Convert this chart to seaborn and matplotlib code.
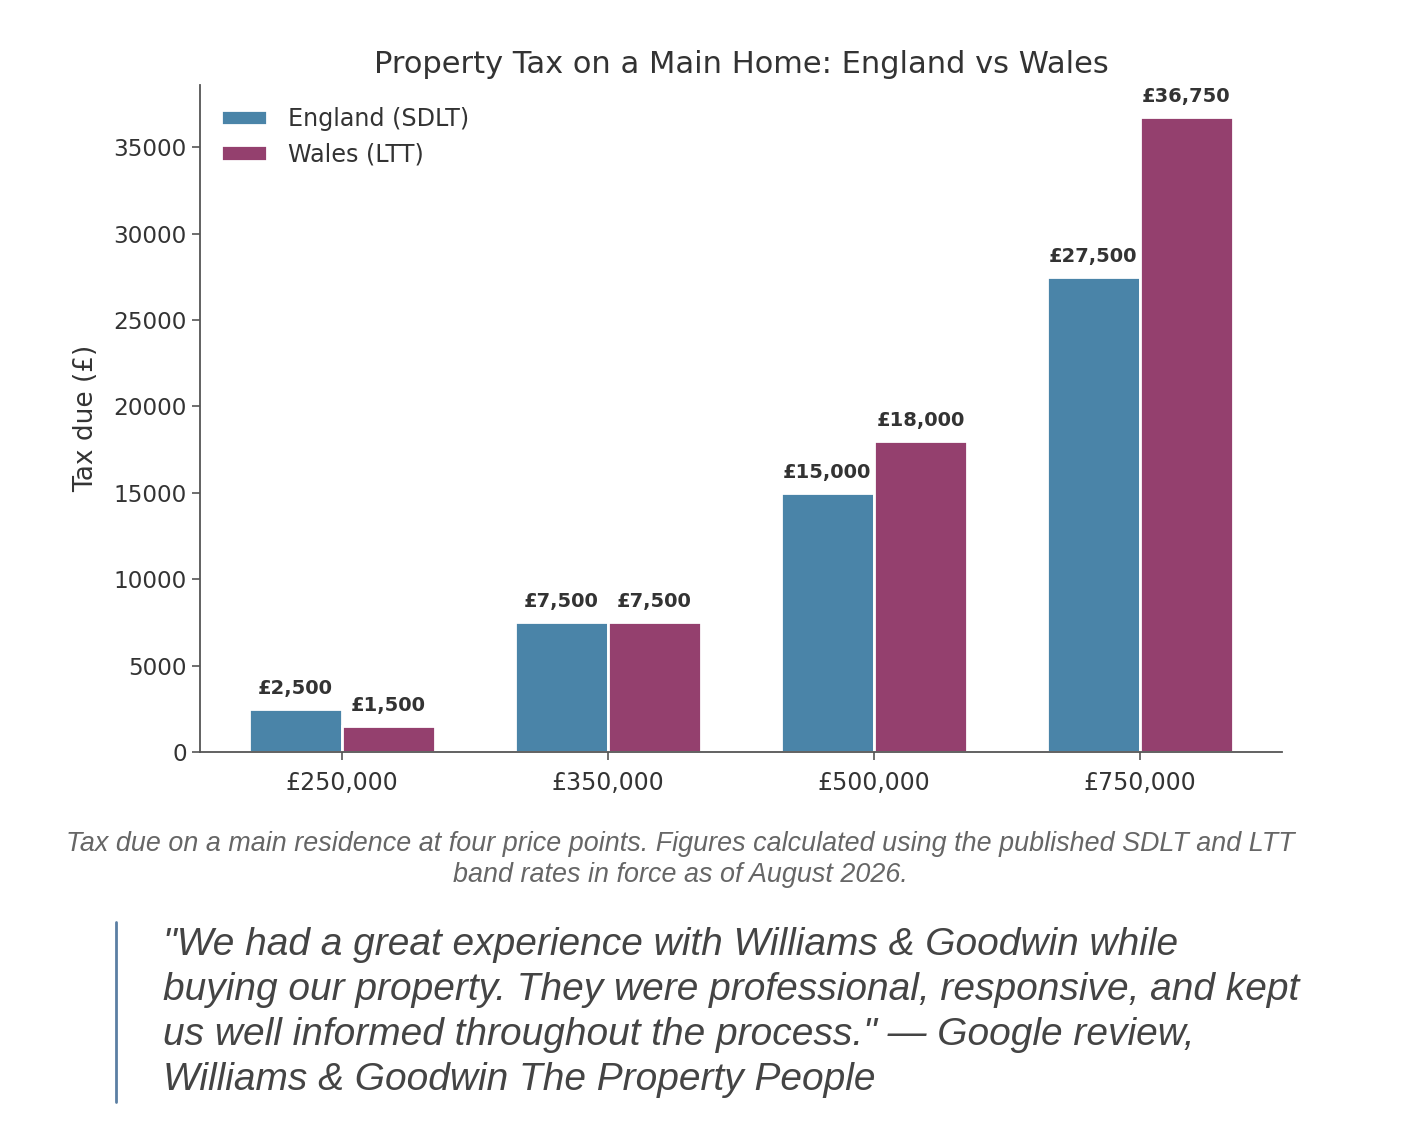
import matplotlib
matplotlib.use("Agg")
import matplotlib.pyplot as plt
import pandas as pd
import seaborn as sns
from matplotlib.lines import Line2D

price_points = ["£250,000", "£350,000", "£500,000", "£750,000"]
england_tax = [2500, 7500, 15000, 27500]
wales_tax = [1500, 7500, 18000, 36750]
series_names = ["England (SDLT)", "Wales (LTT)"]
series_colors = ["#4a84a8", "#94406e"]

caption = ("Tax due on a main residence at four price points. Figures calculated using the published SDLT and LTT\n"
           "band rates in force as of August 2026.")
quote = ("\"We had a great experience with Williams & Goodwin while\n"
         "buying our property. They were professional, responsive, and kept\n"
         "us well informed throughout the process.\" \u2014 Google review,\n"
         "Williams & Goodwin The Property People")

df = pd.DataFrame({
    "price": price_points * 2,
    "tax": england_tax + wales_tax,
    "region": [series_names[0]] * 4 + [series_names[1]] * 4,
})

sns.set_style("ticks")
plt.rcParams["font.family"] = ["DejaVu Sans"]
text_color = "#333333"

fig = plt.figure(figsize=(14.11, 11.40), dpi=100)
ax = fig.add_axes([0.1417, 0.3404, 0.7669, 0.585])

sns.barplot(data=df, x="price", y="tax", hue="region", palette=series_colors,
            width=0.7, edgecolor="white", linewidth=2, saturation=1, ax=ax)

for container in ax.containers:
    ax.bar_label(container, labels=[f"£{v:,.0f}" for v in container.datavalues],
                 padding=8, fontsize=14, fontweight="bold", color=text_color)

ax.set_xlim(-0.535, 3.535)
ax.set_ylim(0, 38600)
ax.set_xlabel("")
ax.set_ylabel("Tax due (£)", fontsize=19, color=text_color, labelpad=10)
ax.set_title("Property Tax on a Main Home: England vs Wales", fontsize=22,
             color=text_color, pad=9)
ax.tick_params(axis="both", labelsize=16.7, colors="#555555", labelcolor=text_color,
               length=6, width=1.2)
ax.tick_params(axis="x", labelsize=17, pad=8)
for side in ["left", "bottom"]:
    ax.spines[side].set_color("#555555")
    ax.spines[side].set_linewidth(1.3)
sns.despine(ax=ax)

leg = ax.legend(frameon=False, fontsize=17.2, loc="upper left",
                bbox_to_anchor=(0.0, 1.0), handlelength=1.9, handleheight=0.6,
                handletextpad=0.9, labelcolor=text_color)

fig.text(0.482, 0.246, caption, ha="center", va="center", fontsize=19.4,
         style="italic", color="#666666", family="Liberation Sans", linespacing=1.27)

fig.text(0.1155, 0.112, quote, ha="left", va="center", fontsize=28,
         style="italic", color="#444444", family="Liberation Sans", linespacing=1.32)
fig.add_artist(Line2D([0.0822, 0.0822], [0.0333, 0.1912], color="#5b7fa3", lw=2))

fig.savefig("out.png", dpi=100)
